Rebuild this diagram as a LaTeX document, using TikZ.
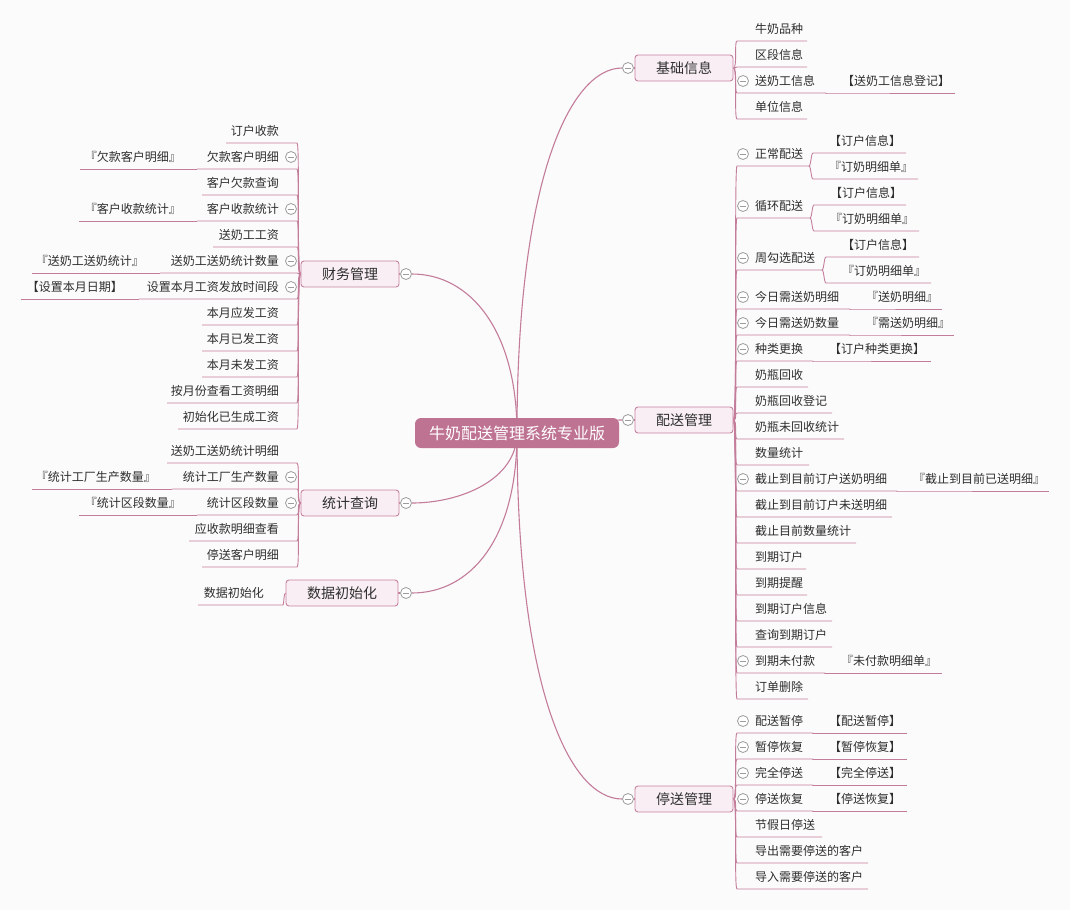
\documentclass[tikz,border=0pt]{standalone}
\usepackage{fontspec}
\newfontfamily\cjk{Noto Sans CJK SC}
\usetikzlibrary{calc}
\pgfdeclarelayer{back}
\pgfdeclarelayer{lines}
\pgfsetlayers{back,lines,main}
\definecolor{bgc}{HTML}{FBFBFB}
\definecolor{lnc}{HTML}{C47C9B}
\definecolor{ctrc}{HTML}{BF7393}
\definecolor{boxf}{HTML}{F8EEF3}
\definecolor{boxd}{HTML}{C9829F}
\definecolor{grc}{HTML}{9C9C9C}
\definecolor{txc}{HTML}{2E2E2E}
\tikzset{
  ln/.style={draw=lnc, line width=0.9pt},
  mainln/.style={draw=lnc, line width=1.1pt},
  ctr/.style={fill=ctrc, rounded corners=6pt, minimum width=204pt, minimum height=30pt,
    inner sep=0pt, text=white, font=\cjk\fontsize{16}{18}\selectfont},
  brbox/.style={rounded corners=3pt, draw=boxd, fill=boxf, line width=0.9pt,
    minimum width=98pt, minimum height=26pt, inner sep=0pt, text=txc,
    font=\cjk\fontsize{14}{16}\selectfont},
  rt/.style={anchor=base west, inner sep=0pt, text=txc, font=\cjk\fontsize{12}{14}\selectfont},
  lt/.style={anchor=base east, inner sep=0pt, text=txc, font=\cjk\fontsize{12}{14}\selectfont},
  colc/.style={circle, draw=grc, fill=white, minimum size=11pt, inner sep=0pt, line width=0.8pt,
    path picture={\draw[grc, line width=0.8pt] ([xshift=2.2pt]path picture bounding box.west)
      -- ([xshift=-2.2pt]path picture bounding box.east);}},
}
% right first-level child: name, text, underline y, underline end x, parent
\newcommand\RC[5]{%
  \node[rt] (#1) at (755,#3-7.5) {#2};
  \coordinate (#1a) at (737,#3);
  \coordinate (#1b) at (#4,#3);
  \begin{pgfonlayer}{lines}
  \draw[ln] (#5.east) .. controls ($(#5.east)+(4,0)$) and ($(#1a)+(-3,0)$) .. (#1a) -- (#1b);
  \end{pgfonlayer}}
% right sub child: name, text, ul y, ul start x, ul end x, parent coordinate
\newcommand\RS[6]{%
  \node[rt] (#1) at (#4+16,#3-7.5) {#2};
  \coordinate (#1a) at (#4,#3);
  \coordinate (#1b) at (#5,#3);
  \begin{pgfonlayer}{lines}
  \draw[ln] (#6) .. controls ($(#6)+(2,0)$) and ($(#1a)+(-2,0)$) .. (#1a) -- (#1b);
  \end{pgfonlayer}}
% left first-level child
\newcommand\LC[5]{%
  \node[lt] (#1) at (279,#3-7.5) {#2};
  \coordinate (#1a) at (297,#3);
  \coordinate (#1b) at (#4,#3);
  \begin{pgfonlayer}{lines}
  \draw[ln] (#5.west) .. controls ($(#5.west)+(-4,0)$) and ($(#1a)+(3,0)$) .. (#1a) -- (#1b);
  \end{pgfonlayer}}
% left sub child: name, text, ul y, text end x, ul end x, parent coordinate
\newcommand\LS[6]{%
  \node[lt] (#1) at (#4,#3-7.5) {#2};
  \coordinate (#1b) at (#5,#3);
  \begin{pgfonlayer}{lines}
  \draw[ln] (#6) -- (#1b);
  \end{pgfonlayer}}
\newcommand\CC[3]{\node[colc] (#1) at (#2,#3) {};}
\begin{document}
\begin{tikzpicture}[x=1pt, y=-1pt]
\begin{pgfonlayer}{back}
\fill[bgc] (0,0) rectangle (1070,910);
\end{pgfonlayer}
\useasboundingbox (0,0) rectangle (1070,910);

% root and main branches
\node[ctr] (root) at (517,433) {牛奶配送管理系统专业版};
\node[brbox] (jc) at (684,68) {基础信息};
\node[brbox] (ps) at (684,420) {配送管理};
\node[brbox] (ts) at (684,799) {停送管理};
\node[brbox] (cw) at (350,274) {财务管理};
\node[brbox] (tj) at (350,503) {统计查询};
\node[brbox, minimum width=112pt] (sj) at (342,593) {数据初始化};
\CC{oJ}{628}{68}
\CC{oP}{628}{420}
\CC{oT}{628}{799}
\CC{oC}{406}{274}
\CC{oS}{406}{503}
\CC{oD}{406}{593}
\begin{pgfonlayer}{lines}
\draw[mainln] (root.center) .. controls (517,180) and (570,68) .. (oJ);
\draw[mainln] (root.center) .. controls (560,433) and (590,420) .. (oP);
\draw[mainln] (root.center) .. controls (517,690) and (570,799) .. (oT);
\draw[mainln] (root.center) .. controls (517,330) and (470,274) .. (oC);
\draw[mainln] (root.center) .. controls (517,480) and (460,503) .. (oS);
\draw[mainln] (root.center) .. controls (517,540) and (470,593) .. (oD);
\draw[mainln] (oJ) -- (jc);
\draw[mainln] (oP) -- (ps);
\draw[mainln] (oT) -- (ts);
\draw[mainln] (oC) -- (cw);
\draw[mainln] (oS) -- (tj);
\draw[mainln] (oD) -- (sj);
\end{pgfonlayer}

% 基础信息
\RC{ja}{牛奶品种}{41}{807}{jc}
\RC{jb}{区段信息}{67}{807}{jc}
\RC{jd}{送奶工信息}{93}{826}{jc}
\RS{jdx}{【送奶工信息登记】}{93}{826}{955}{jdb}
\CC{ojd}{743}{81}
\RC{je}{单位信息}{119}{807}{jc}

% 配送管理
\RC{pa}{正常配送}{166}{809}{ps}
\RS{pax}{【订户信息】}{153}{813}{906}{pab}
\RS{pay}{『订奶明细单』}{179}{813}{918}{pab}
\CC{opa}{743}{154}
\RC{pb}{循环配送}{218}{810}{ps}
\RS{pbx}{【订户信息】}{205}{814}{906}{pbb}
\RS{pby}{『订奶明细单』}{231}{814}{919}{pbb}
\CC{opb}{743}{206}
\RC{pc}{周勾选配送}{270}{822}{ps}
\RS{pcx}{【订户信息】}{257}{826}{919}{pcb}
\RS{pcy}{『订奶明细单』}{283}{826}{931}{pcb}
\CC{opc}{743}{258}
\RC{pd}{今日需送奶明细}{309}{850}{ps}
\RS{pdx}{『送奶明细』}{309}{850}{942}{pdb}
\CC{opd}{743}{297}
\RC{pe}{今日需送奶数量}{335}{850}{ps}
\RS{pex}{『需送奶明细』}{335}{850}{954}{peb}
\CC{ope}{743}{323}
\RC{pf}{种类更换}{361}{813}{ps}
\RS{pfx}{【订户种类更换】}{361}{813}{931}{pfb}
\CC{opf}{743}{349}
\RC{pg}{奶瓶回收}{387}{808}{ps}
\RC{ph}{奶瓶回收登记}{413}{832}{ps}
\RC{pi}{奶瓶未回收统计}{439}{844}{ps}
\RC{pj}{数量统计}{465}{809}{ps}
\RC{pk}{截止到目前订户送奶明细}{491}{897}{ps}
\RS{pkx}{『截止到目前已送明细』}{491}{897}{1049}{pkb}
\CC{opk}{743}{479}
\RC{pl}{截止到目前订户未送明细}{517}{892}{ps}
\RC{pm}{截止目前数量统计}{543}{856}{ps}
\RC{pn}{到期订户}{569}{806}{ps}
\RC{po}{到期提醒}{595}{807}{ps}
\RC{pp}{到期订户信息}{621}{832}{ps}
\RC{pq}{查询到期订户}{647}{832}{ps}
\RC{pr}{到期未付款}{673}{825}{ps}
\RS{prx}{『未付款明细单』}{673}{825}{942}{prb}
\CC{opr}{743}{661}
\RC{pt}{订单删除}{699}{808}{ps}

% 停送管理
\RC{ta}{配送暂停}{733}{813}{ts}
\RS{tax}{【配送暂停】}{733}{813}{907}{tab}
\CC{ota}{743}{721}
\RC{tb}{暂停恢复}{759}{813}{ts}
\RS{tbx}{【暂停恢复】}{759}{813}{907}{tbb}
\CC{otb}{743}{747}
\RC{tc}{完全停送}{785}{813}{ts}
\RS{tcx}{【完全停送】}{785}{813}{907}{tcb}
\CC{otc}{743}{773}
\RC{td}{停送恢复}{811}{813}{ts}
\RS{tdx}{【停送恢复】}{811}{813}{907}{tdb}
\CC{otd}{743}{799}
\RC{te}{节假日停送}{837}{822}{ts}
\RC{tf}{导出需要停送的客户}{863}{868}{ts}
\RC{tg}{导入需要停送的客户}{889}{868}{ts}

% 财务管理
\LC{ca}{订户收款}{143}{226}{cw}
\LC{cb}{欠款客户明细}{169}{197}{cw}
\LS{cbx}{『欠款客户明细』}{169}{181}{80}{cbb}
\CC{ocb}{291}{157}
\LC{cc}{客户欠款查询}{195}{202}{cw}
\LC{cd}{客户收款统计}{221}{197}{cw}
\LS{cdx}{『客户收款统计』}{221}{181}{79}{cdb}
\CC{ocd}{291}{209}
\LC{ce}{送奶工工资}{247}{213}{cw}
\LC{cf}{送奶工送奶统计数量}{273}{160}{cw}
\LS{cfx}{『送奶工送奶统计』}{273}{144}{32}{cfb}
\CC{ocf}{291}{261}
\LC{cg}{设置本月工资发放时间段}{299}{139}{cw}
\LS{cgx}{【设置本月日期】}{299}{123}{21}{cgb}
\CC{ocg}{291}{287}
\LC{ch}{本月应发工资}{325}{202}{cw}
\LC{ci}{本月已发工资}{351}{202}{cw}
\LC{cj}{本月未发工资}{377}{202}{cw}
\LC{ck}{按月份查看工资明细}{403}{167}{cw}
\LC{cl}{初始化已生成工资}{429}{178}{cw}

% 统计查询
\LC{sa}{送奶工送奶统计明细}{463}{167}{tj}
\LC{sb}{统计工厂生产数量}{489}{172}{tj}
\LS{sbx}{『统计工厂生产数量』}{489}{156}{32}{sbb}
\CC{osb}{291}{477}
\LC{sc}{统计区段数量}{515}{197}{tj}
\LS{scx}{『统计区段数量』}{515}{181}{79}{scb}
\CC{osc}{291}{503}
\LC{sd}{应收款明细查看}{541}{189}{tj}
\LC{se}{停送客户明细}{567}{202}{tj}

% 数据初始化
\node[lt] (da) at (264,597.5) {数据初始化};
\coordinate (daa) at (283,605);
\coordinate (dab) at (198,605);
\begin{pgfonlayer}{lines}
\draw[ln] (sj.west) .. controls ($(sj.west)+(-2,0)$) and ($(daa)+(1,0)$) .. (daa) -- (dab);
\end{pgfonlayer}
\end{tikzpicture}
\end{document}
